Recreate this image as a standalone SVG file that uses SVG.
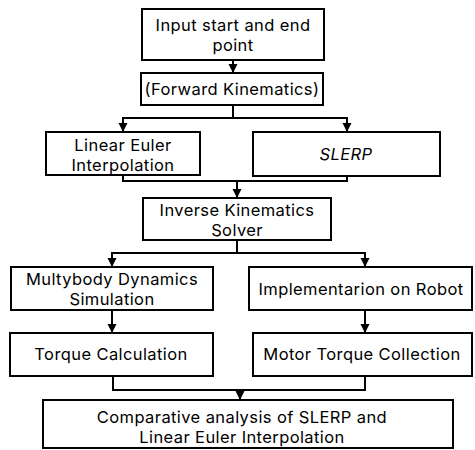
<svg xmlns="http://www.w3.org/2000/svg" width="475" height="450" viewBox="0 0 475 450">
<style>
.b{fill:#fff;stroke:#000;stroke-width:2}
text{font-family:Inter,"Noto Sans",sans-serif;font-size:16.5px;letter-spacing:0.4px;fill:#000;text-anchor:middle}
.c line,.c polyline{stroke:#000;stroke-width:2;fill:none}
</style>
<defs>
<marker id="a" markerUnits="userSpaceOnUse" markerWidth="10" markerHeight="10" refX="9" refY="4.5" orient="auto">
<path d="M0,0 L9,4.5 L0,9 z" fill="#000"/>
</marker>
</defs>
<rect width="475" height="450" fill="#fff"/>
<g class="c" id="connectors">
<line x1="233" y1="60" x2="233" y2="73" marker-end="url(#a)"/>
<line x1="233" y1="105" x2="233" y2="118"/>
<line x1="122" y1="118" x2="348" y2="118"/>
<line x1="123" y1="118" x2="123" y2="132" marker-end="url(#a)"/>
<line x1="347" y1="118" x2="347" y2="132" marker-end="url(#a)"/>
<polyline points="123,175 123,181 347,181 347,176"/>
<line x1="237" y1="181" x2="237" y2="198" marker-end="url(#a)"/>
<line x1="237" y1="240" x2="237" y2="253"/>
<line x1="111" y1="253" x2="366" y2="253"/>
<line x1="112" y1="253" x2="112" y2="267" marker-end="url(#a)"/>
<line x1="365" y1="253" x2="365" y2="267" marker-end="url(#a)"/>
<line x1="112" y1="310" x2="112" y2="333" marker-end="url(#a)"/>
<line x1="365" y1="310" x2="365" y2="333" marker-end="url(#a)"/>
<polyline points="113,376 113,390 365,390 365,376"/>
<line x1="240" y1="390" x2="240" y2="400" marker-end="url(#a)"/>
</g>
<g id="n1"><rect class="b" x="142" y="9" width="182" height="51"/><text x="233" y="31">Input start and end</text><text x="233" y="51">point</text></g>
<g id="n2"><rect class="b" x="141" y="73" width="182" height="32"/><text x="232" y="95">(Forward Kinematics)</text></g>
<g id="n3"><rect class="b" x="46" y="132" width="154" height="43"/><text x="123" y="151">Linear Euler</text><text x="123" y="171">Interpolation</text></g>
<g id="n4"><rect class="b" x="253" y="132" width="187" height="44"/><text x="346" y="160" font-style="italic">SLERP</text></g>
<g id="n5"><rect class="b" x="143" y="198" width="188" height="42"/><text x="237" y="216">Inverse Kinematics</text><text x="237" y="236">Solver</text></g>
<g id="n6"><rect class="b" x="11" y="267" width="202" height="43"/><text x="112" y="285">Multybody Dynamics</text><text x="112" y="305">Simulation</text></g>
<g id="n7"><rect class="b" x="249" y="267" width="223" height="43"/><text x="361" y="295">Implementarion on Robot</text></g>
<g id="n8"><rect class="b" x="10" y="333" width="203" height="43"/><text x="111" y="360">Torque Calculation</text></g>
<g id="n9"><rect class="b" x="253" y="333" width="219" height="43"/><text x="362" y="360">Motor Torque Collection</text></g>
<g id="n10"><rect class="b" x="43" y="400" width="410" height="48"/><text x="242" y="423">Comparative analysis of SLERP and</text><text x="242" y="443">Linear Euler Interpolation</text></g>
</svg>
